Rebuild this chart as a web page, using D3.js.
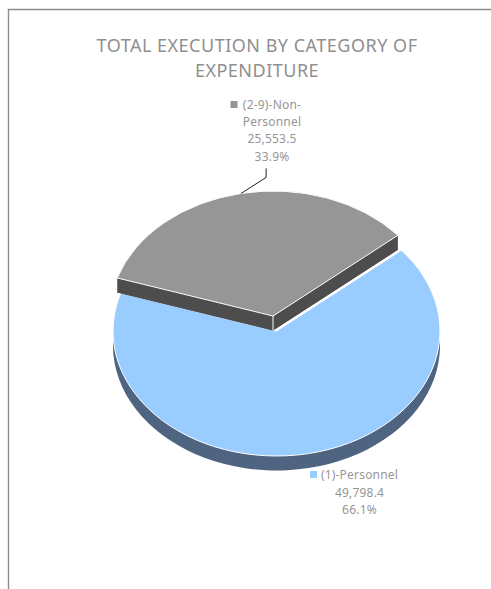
<!DOCTYPE html>
<html><head><meta charset="utf-8">
<script src="https://cdn.jsdelivr.net/npm/d3@7"></script>
<style>html,body{margin:0;padding:0;background:#fff}svg{display:block}text{font-family:"Noto Sans",sans-serif}</style>
</head><body><svg id="c" width="491" height="589"></svg>
<script>
const titleLines = ["TOTAL EXECUTION BY CATEGORY OF", "EXPENDITURE"];
const categories = ["(1)-Personnel", "(2-9)-Non-Personnel"];
const values = [49798.4, 25553.5];
const valueLabels = ["49,798.4", "25,553.5"];
const percentLabels = ["66.1%", "33.9%"];
const topColors = ["#99CCFF", "#969696"];
const sideColors = ["#4F6480", "#4D4D4D"];

const svg = d3.select("#c");
const rx = 163.5, ry = 125, depth = 14.5;
const centers = [[276.5, 331], [273, 316]];
const start = 49.8 * Math.PI / 180;

svg.append("path").attr("d", "M8.5,589V9.5H491").attr("fill", "none").attr("stroke", "#8c8c8c").attr("stroke-width", 1.4);

svg.selectAll(".t").data(titleLines).join("text").attr("class", "t")
  .attr("x", 257).attr("y", (d, i) => 52 + i * 25).attr("text-anchor", "middle")
  .attr("font-size", 18).attr("letter-spacing", 0.5).attr("fill", "#8f8f8f").text(d => d);

const arcs = d3.pie().sort(null).startAngle(start).endAngle(start + 2 * Math.PI)(values);
const arc = d3.arc().innerRadius(0).outerRadius(rx);
const pt = (i, a) => [centers[i][0] + rx * Math.sin(a), centers[i][1] - ry * Math.cos(a)];
const place = (i, dy) => `translate(${centers[i][0]},${centers[i][1] + dy}) scale(1,${ry / rx})`;

arcs.forEach((d, i) => {
  // extruded body
  svg.append("path").attr("d", arc(d)).attr("transform", place(i, depth)).attr("fill", sideColors[i]);
  if (i === 1) {
    const c = [centers[i][0], centers[i][1]];
    [d.startAngle, d.endAngle].forEach(a => {
      const p = pt(i, a);
      svg.append("path")
        .attr("d", d3.line()([p, c, [c[0], c[1] + depth], [p[0], p[1] + depth]]))
        .attr("fill", sideColors[i]);
    });
    svg.append("path").attr("d", d3.line()([c, [c[0], c[1] + depth]])).attr("stroke", "#fff").attr("stroke-width", 1);
  }
  svg.append("path").attr("d", arc(d)).attr("transform", place(i, 0))
    .attr("fill", topColors[i]).attr("stroke", "#fff").attr("stroke-width", 1)
    .attr("vector-effect", "non-scaling-stroke").attr("stroke-linejoin", "round");
});

// leader line from slice mid-angle on the rim
const mid = (arcs[1].startAngle + arcs[1].endAngle) / 2;
const L = pt(1, mid);
svg.append("path").attr("d", d3.line()([L, [L[0] + 25, L[1] - 16], [L[0] + 25, L[1] - 25]]))
  .attr("fill", "none").attr("stroke", "#222").attr("stroke-width", 1);

function label(i, lines, cx, y0, steps, sqx, sqy) {
  svg.append("rect").attr("x", sqx).attr("y", sqy).attr("width", 7).attr("height", 7).attr("fill", topColors[i]);
  let y = y0;
  lines.forEach((s, k) => {
    y += steps[k];
    svg.append("text").attr("x", cx).attr("y", y).attr("text-anchor", "middle")
      .attr("font-size", 12).attr("letter-spacing", 0.2).attr("fill", "#969696").text(s);
  });
}
const nameParts = categories[1].split("Non-");
label(0, [categories[0], valueLabels[0], percentLabels[0]], 359.5, 479, [0, 18, 17], 310, 471);
label(1, [nameParts[0] + "Non-", nameParts[1], valueLabels[1], percentLabels[1]], 272, 109, [0, 17, 17, 18], 230.5, 101);
</script></body></html>
